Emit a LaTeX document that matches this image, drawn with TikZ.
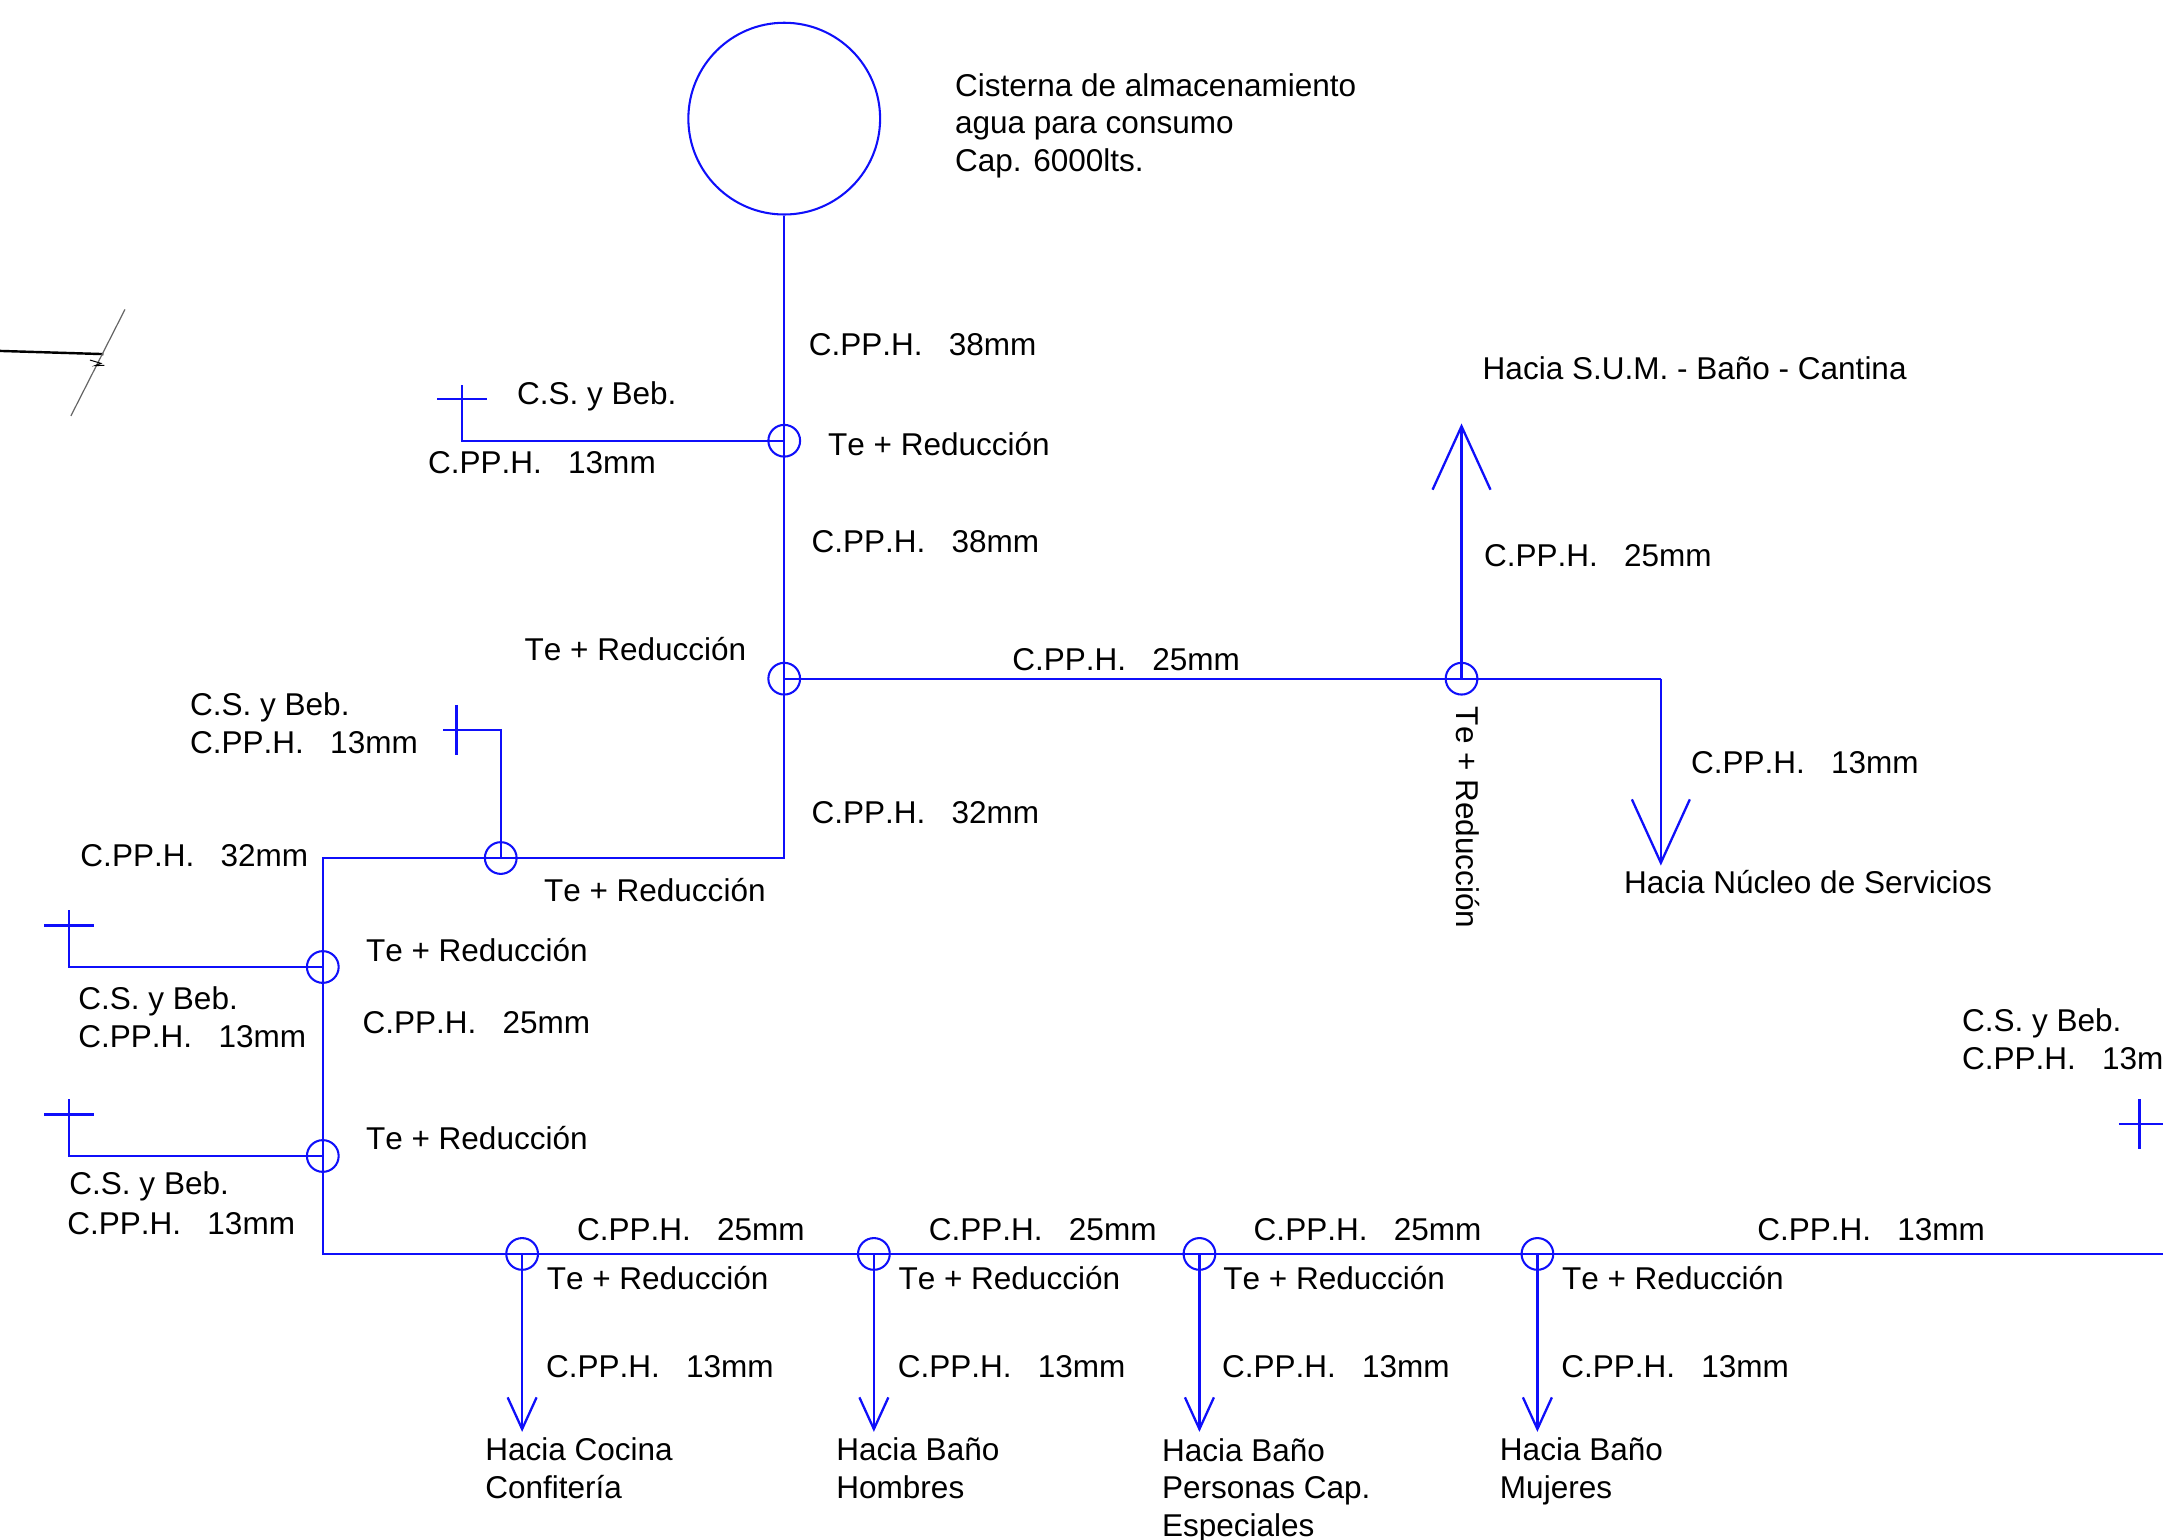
\documentclass[tikz,border=0pt]{standalone}
\usepackage{fontspec}
\setmainfont[Kerning=Off]{Liberation Sans}
\usetikzlibrary{arrows.meta}

\definecolor{pipeblue}{RGB}{15,15,250}

\begin{document}
\begin{tikzpicture}[scale=0.2,
  pipe/.style={draw=pipeblue,line width=0.95pt},
  tee/.style={circle,draw=pipeblue,line width=0.85pt,inner sep=0pt,minimum size=0.46cm},
  bigtank/.style={circle,draw=pipeblue,line width=0.85pt,inner sep=0pt,minimum size=2.78cm},
  lbl/.style={anchor=base west,inner sep=0pt,align=left,font=\fontsize{13}{15.6}\selectfont},
  bigtip/.style={-{Straight Barb[length=0.92cm,width=0.84cm,line width=0.95pt]}},
  smalltip/.style={-{Straight Barb[length=0.46cm,width=0.42cm,line width=0.95pt]}}]
\clip (0,0) rectangle (156.8,-111.6);
\useasboundingbox (0,0) rectangle (156.8,-111.6);
\node [bigtank] (tank) at (56.85,-8.6) {};
\node [tee] (ta) at (56.85,-31.95) {};
\node [tee] (tb) at (56.85,-49.2) {};
\node [tee] (tc) at (36.3,-62.2) {};
\node [tee] (td) at (23.4,-70.1) {};
\node [tee] (te) at (23.4,-83.8) {};
\node [tee] (tf) at (37.85,-90.9) {};
\node [tee] (tg) at (63.35,-90.9) {};
\node [tee] (th) at (86.95,-90.9) {};
\node [tee] (ti) at (111.45,-90.9) {};
\node [tee] (tj) at (105.95,-49.2) {};
\coordinate (k1) at (56.85,-62.2);
\coordinate (k2) at (23.4,-62.2);
\coordinate (k3) at (23.4,-90.9);
\coordinate (k4) at (156.8,-90.9);
\coordinate (k5) at (120.4,-49.2);
\coordinate (up) at (105.95,-30.7);
\coordinate (dn) at (120.4,-62.75);
\coordinate (af) at (37.85,-103.8);
\coordinate (ag) at (63.35,-103.8);
\coordinate (ah) at (86.95,-103.8);
\coordinate (ai) at (111.45,-103.8);
\coordinate (ca) at (33.5,-31.95);
\coordinate (cb) at (33.5,-27.9);
\coordinate (cc) at (31.7,-28.9);
\coordinate (cd) at (35.3,-28.9);
\coordinate (ce) at (36.3,-52.9);
\coordinate (cf) at (32.1,-52.9);
\coordinate (cg) at (33.1,-51.1);
\coordinate (ch) at (33.1,-54.7);
\coordinate (ci) at (5,-70.1);
\coordinate (cj) at (5,-66);
\coordinate (ck) at (3.2,-67.1);
\coordinate (cl) at (6.8,-67.1);
\coordinate (cm) at (5,-83.8);
\coordinate (cn) at (5,-79.7);
\coordinate (co) at (3.2,-80.8);
\coordinate (cp) at (6.8,-80.8);
\coordinate (cq) at (155.1,-79.7);
\coordinate (cr) at (155.1,-83.3);
\coordinate (cs) at (153.6,-81.5);
\coordinate (ct) at (156.8,-81.5);
\draw [pipe] (tank.south) -- (k1) -- (k2) -- (k3) -- (k4);
\draw [pipe] (ta.center) -- (ca) -- (cb);
\draw [pipe] (cc) -- (cd);
\draw [pipe] (tc.center) -- (ce) -- (cf);
\draw [pipe] (cg) -- (ch);
\draw [pipe] (td.center) -- (ci) -- (cj);
\draw [pipe] (ck) -- (cl);
\draw [pipe] (te.center) -- (cm) -- (cn);
\draw [pipe] (co) -- (cp);
\draw [pipe] (cq) -- (cr);
\draw [pipe] (cs) -- (ct);
\draw [pipe] (tb.center) -- (k5);
\draw [pipe,bigtip] (tj.center) -- (up);
\draw [pipe,bigtip] (k5) -- (dn);
\draw [pipe,smalltip] (tf.center) -- (af);
\draw [pipe,smalltip] (tg.center) -- (ag);
\draw [pipe,smalltip] (th.center) -- (ah);
\draw [pipe,smalltip] (ti.center) -- (ai);
\coordinate (ba) at (0,-25.44);
\coordinate (bb) at (7.5,-25.67);
\coordinate (bc) at (9.06,-22.43);
\coordinate (bd) at (5.14,-30.15);
\coordinate (be) at (6.52,-26.1);
\coordinate (bf) at (7.32,-26.34);
\coordinate (bg) at (6.88,-26.51);
\coordinate (bh) at (7.56,-26.48);
\draw [black,line width=1pt] (ba) -- (bb);
\draw [black!60,line width=0.5pt] (bc) -- (bd);
\draw [black,line width=0.4pt] (be) -- (bf) -- (bg) -- (bh);
\node [lbl] (cist) at (69.2,-12.45) {Cisterna de almacenamiento\\agua para consumo\\Cap. 6000lts.};
\node [lbl] (l1) at (58.6,-25.8) {C.PP.H.\ \ \ 38mm};
\node [lbl] (l2) at (37.45,-29.3) {C.S. y Beb.};
\node [lbl] (l3) at (31,-34.3) {C.PP.H.\ \ \ 13mm};
\node [lbl] (l4) at (60,-33) {Te + Reducción};
\node [lbl] (l5) at (58.8,-40.05) {C.PP.H.\ \ \ 38mm};
\node [lbl] (l6) at (38,-47.9) {Te + Reducción};
\node [lbl] (l7) at (73.35,-48.6) {C.PP.H.\ \ \ 25mm};
\node [lbl] (l8) at (107.45,-27.5) {Hacia S.U.M. - Baño - Cantina};
\node [lbl] (l9) at (107.55,-41.05) {C.PP.H.\ \ \ 25mm};
\node [lbl] (l10) at (122.55,-56.05) {C.PP.H.\ \ \ 13mm};
\node [lbl] (l11) at (117.7,-64.75) {Hacia Núcleo de Servicios};
\node [lbl,rotate=-90] (l12) at (105.6,-51.2) {Te + Reducción};
\node [lbl] (l13) at (58.8,-59.7) {C.PP.H.\ \ \ 32mm};
\node [lbl] (l14) at (13.75,-54.6) {C.S. y Beb.\\C.PP.H.\ \ \ 13mm};
\node [lbl] (l15) at (5.8,-62.8) {C.PP.H.\ \ \ 32mm};
\node [lbl] (l16) at (39.4,-65.35) {Te + Reducción};
\node [lbl] (l17) at (26.5,-69.7) {Te + Reducción};
\node [lbl] (l18) at (5.65,-75.95) {C.S. y Beb.\\C.PP.H.\ \ \ 13mm};
\node [lbl] (l19) at (26.25,-74.9) {C.PP.H.\ \ \ 25mm};
\node [lbl] (l20) at (26.5,-83.3) {Te + Reducción};
\node [lbl] (l21) at (5,-86.6) {C.S. y Beb.};
\node [lbl] (l22) at (4.85,-89.5) {C.PP.H.\ \ \ 13mm};
\node [lbl] (l23) at (41.8,-89.95) {C.PP.H.\ \ \ 25mm};
\node [lbl] (l24) at (67.3,-89.95) {C.PP.H.\ \ \ 25mm};
\node [lbl] (l25) at (90.85,-89.95) {C.PP.H.\ \ \ 25mm};
\node [lbl] (l26) at (127.35,-89.95) {C.PP.H.\ \ \ 13mm};
\node [lbl] (l27) at (39.6,-93.45) {Te + Reducción};
\node [lbl] (l28) at (65.1,-93.45) {Te + Reducción};
\node [lbl] (l29) at (88.65,-93.45) {Te + Reducción};
\node [lbl] (l30) at (113.2,-93.45) {Te + Reducción};
\node [lbl] (l31) at (39.55,-99.85) {C.PP.H.\ \ \ 13mm};
\node [lbl] (l32) at (65.05,-99.85) {C.PP.H.\ \ \ 13mm};
\node [lbl] (l33) at (88.55,-99.85) {C.PP.H.\ \ \ 13mm};
\node [lbl] (l34) at (113.15,-99.85) {C.PP.H.\ \ \ 13mm};
\node [lbl] (l35) at (35.15,-108.65) {Hacia Cocina\\Confitería};
\node [lbl] (l36) at (60.6,-108.65) {Hacia Baño\\Hombres};
\node [lbl] (l37) at (84.2,-111.4) {Hacia Baño\\Personas Cap.\\Especiales};
\node [lbl] (l38) at (108.7,-108.65) {Hacia Baño\\Mujeres};
\node [lbl] (l39) at (142.2,-77.5) {C.S. y Beb.\\C.PP.H.\ \ \ 13mm};
\end{tikzpicture}
\end{document}
